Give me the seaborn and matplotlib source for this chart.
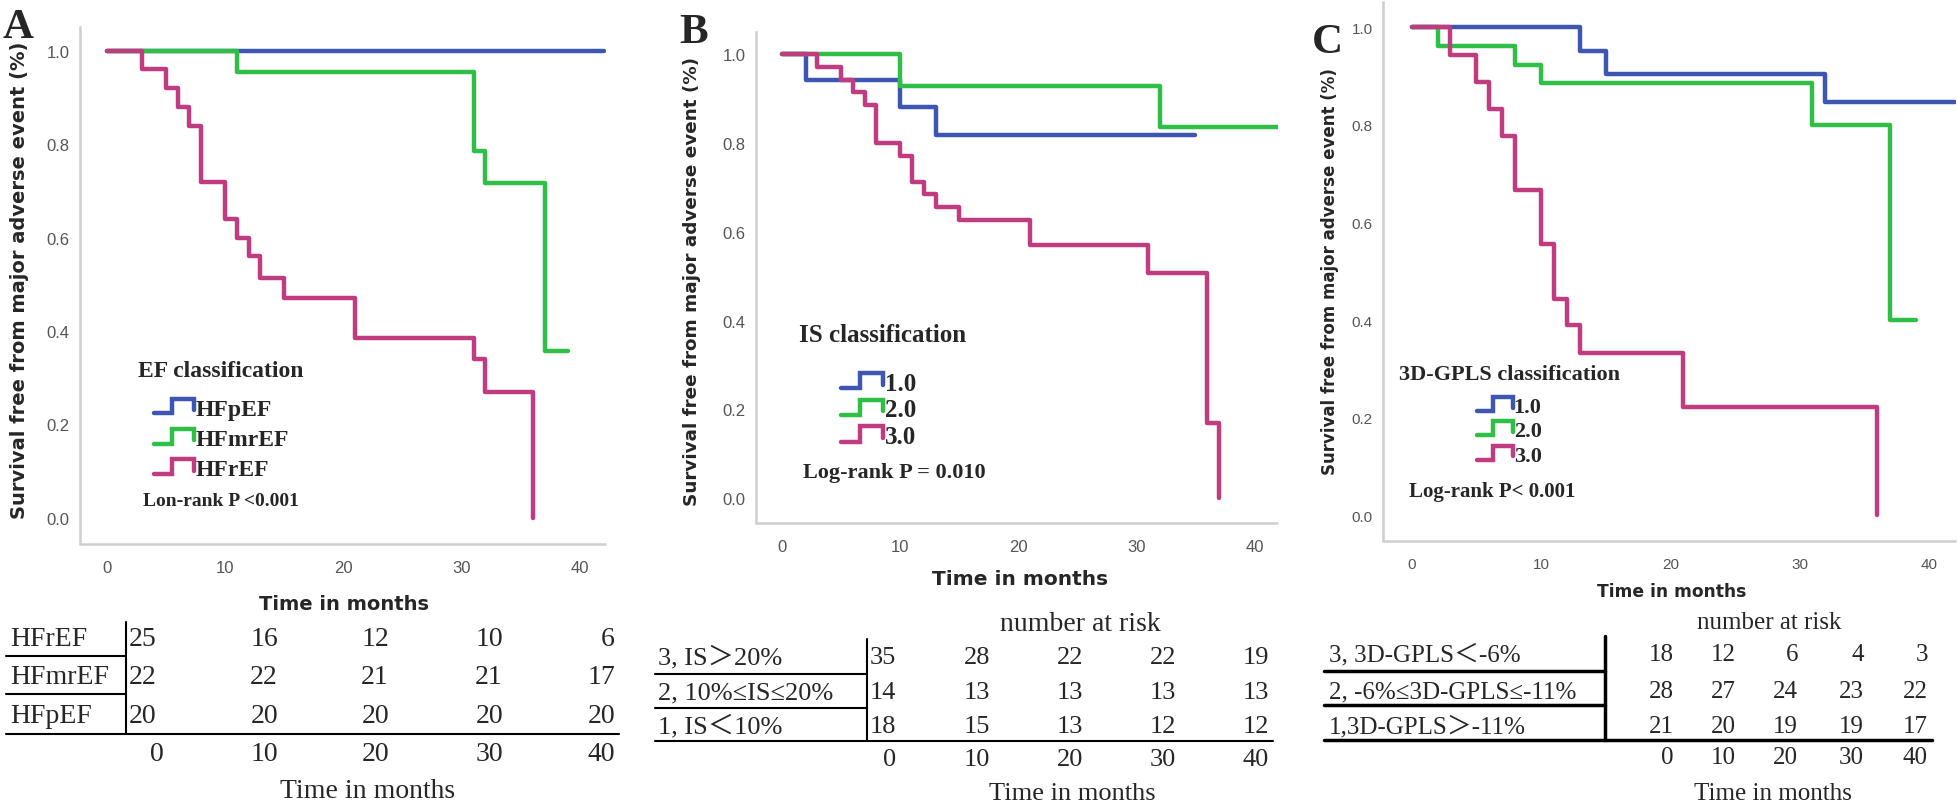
import numpy as np
import pandas as pd
import matplotlib
matplotlib.use("Agg")
import matplotlib.pyplot as plt
import seaborn as sns
from matplotlib.lines import Line2D
from matplotlib.legend_handler import HandlerBase
from matplotlib.transforms import Affine2D

# Kaplan-Meier step data (time in months, survival)
ef_groups = ["HFpEF", "HFmrEF", "HFrEF"]
ef_time = {
    "HFpEF": [0, 42],
    "HFmrEF": [0, 11, 31, 32, 37, 39],
    "HFrEF": [0, 3, 5, 6, 7, 8, 10, 11, 12, 13, 15, 21, 31, 32, 36],
}
ef_surv = {
    "HFpEF": [1.0, 1.0],
    "HFmrEF": [1.0, 0.955, 0.786, 0.716, 0.358, 0.358],
    "HFrEF": [1.0, 0.96, 0.92, 0.88, 0.84, 0.72, 0.64, 0.60, 0.56, 0.513, 0.47, 0.385, 0.34, 0.27, 0.0],
}

is_groups = ["1.0", "2.0", "3.0"]
is_time = {
    "1.0": [0, 2, 10, 13, 35],
    "2.0": [0, 10, 32, 42],
    "3.0": [0, 3, 5, 6, 7, 8, 10, 11, 12, 13, 15, 21, 31, 36, 37],
}
is_surv = {
    "1.0": [1.0, 0.943, 0.881, 0.817, 0.817],
    "2.0": [1.0, 0.928, 0.835, 0.835],
    "3.0": [1.0, 0.971, 0.943, 0.914, 0.886, 0.80, 0.77, 0.713, 0.684, 0.656, 0.627, 0.571, 0.507, 0.169, 0.0],
}

gpls_groups = ["1.0", "2.0", "3.0"]
gpls_time = {
    "1.0": [0, 13, 15, 32, 42],
    "2.0": [0, 2, 8, 10, 31, 37, 39],
    "3.0": [0, 3, 5, 6, 7, 8, 10, 11, 12, 13, 21, 36],
}
gpls_surv = {
    "1.0": [1.0, 0.952, 0.905, 0.848, 0.848],
    "2.0": [1.0, 0.962, 0.923, 0.885, 0.80, 0.40, 0.40],
    "3.0": [1.0, 0.944, 0.889, 0.833, 0.778, 0.667, 0.556, 0.444, 0.389, 0.333, 0.222, 0.0],
}

# Number at risk tables
risk_times = [0, 10, 20, 30, 40]
ef_risk_labels = ["HFrEF", "HFmrEF", "HFpEF"]
ef_risk = [[25, 16, 12, 10, 6], [22, 22, 21, 21, 17], [20, 20, 20, 20, 20]]
is_risk_labels = ["3, IS＞20%", "2, 10%≤IS≤20%", "1, IS＜10%"]
is_risk = [[35, 28, 22, 22, 19], [14, 13, 13, 13, 13], [18, 15, 13, 12, 12]]
gpls_risk_labels = ["3, 3D-GPLS＜-6%", "2, -6%≤3D-GPLS≤-11%", "1,3D-GPLS＞-11%"]
gpls_risk = [[18, 12, 6, 4, 3], [28, 27, 24, 23, 22], [21, 20, 19, 19, 17]]

palette = ["#3d56b2", "#2fbf47", "#c13b80"]

sns.set_style("white")
plt.rcParams["font.family"] = ["Liberation Sans", "DejaVu Sans"]

W, H = 1958, 804
fig = plt.figure(figsize=(W / 100, H / 100), dpi=100)
# pixel coordinates measured from the top-left corner
pix = Affine2D().scale(1 / W, -1 / H).translate(0, 1) + fig.transFigure

SERIF = ["Liberation Serif", "Noto Sans CJK SC"]


class StepHandler(HandlerBase):
    def create_artists(self, legend, orig_handle, xdescent, ydescent,
                       width, height, fontsize, trans):
        x0, y0 = -xdescent, -ydescent
        xs = [x0, x0 + 0.45 * width, x0 + 0.45 * width, x0 + width, x0 + width]
        ys = [y0 + 0.1 * height, y0 + 0.1 * height, y0 + 0.95 * height,
              y0 + 0.95 * height, y0 + 0.3 * height]
        line = Line2D(xs, ys, color=orig_handle.get_color(), lw=3.2,
                      solid_joinstyle="miter", transform=trans)
        return [line]


def km_panel(box, xlim, ylim, groups, times, survs, tick_size):
    left, top, right, bottom = box
    ax = fig.add_axes([left / W, 1 - bottom / H, (right - left) / W, (bottom - top) / H])
    rows = []
    for g in groups:
        for t, s in zip(times[g], survs[g]):
            rows.append({"time": t, "surv": s, "group": g})
    df = pd.DataFrame(rows)
    sns.lineplot(data=df, x="time", y="surv", hue="group", hue_order=groups,
                 palette=palette, estimator=None, sort=False,
                 drawstyle="steps-post", linewidth=3.2, legend=False, ax=ax)
    ax.set_xlim(*xlim)
    ax.set_ylim(*ylim)
    ax.set_xticks(risk_times)
    ax.set_yticks(np.arange(0, 1.01, 0.2))
    ax.set_yticklabels([f"{v:.1f}" for v in np.arange(0, 1.01, 0.2)])
    ax.set_xlabel("")
    ax.set_ylabel("")
    for side in ["top", "right"]:
        ax.spines[side].set_visible(False)
    ax.spines["left"].set_color("#cfcfcf")
    ax.spines["left"].set_linewidth(1.8)
    # SPSS style: x ticks hang a little below the frame line
    ax.spines["bottom"].set_position(("outward", 3))
    ax.spines["bottom"].set_visible(False)
    ax.plot([0, 1], [0, 0], transform=ax.transAxes, color="#cfcfcf", lw=1.8,
            clip_on=False, solid_capstyle="butt")
    ax.tick_params(axis="y", direction="out", length=6.5, width=1.6, color="#444444",
                   labelsize=tick_size, labelcolor="#555555", pad=1)
    ax.tick_params(axis="x", direction="out", length=6.5, width=1.6, color="#444444",
                   labelsize=tick_size, labelcolor="#555555", pad=2)
    return ax


def step_legend(ax, groups, title, title_pos, anchor, size, spacing, hlen):
    fig.text(title_pos[0], title_pos[1], title, transform=pix, family=SERIF,
             weight="bold", size=size, ha="center", va="center")
    handles = [Line2D([], [], color=c) for c in palette]
    leg = ax.legend(handles, groups, loc="center left",
                    bbox_to_anchor=anchor, bbox_transform=pix, frameon=False,
                    prop={"family": SERIF, "weight": "bold", "size": size},
                    handler_map={Line2D: StepHandler()}, handlelength=hlen,
                    handleheight=0.75, handletextpad=0.05, labelspacing=spacing,
                    borderpad=0, borderaxespad=0)
    return leg


def risk_table(labels, counts, lay, size, lw):
    for label, row, y in zip(labels, counts, lay["row_y"]):
        fig.text(lay["label_x"], y, label, transform=pix, family=SERIF, size=size,
                 ha="left", va="center")
        for j, (n, x) in enumerate(zip(row, lay["num_x"])):
            ha = "left" if (j == 0 and lay["first_left"]) else "right"
            xx = lay["vline_x"] + 3 if ha == "left" else x
            fig.text(xx, y, str(n), transform=pix, family=SERIF, size=size,
                     ha=ha, va="center")
    for t, x in zip(risk_times, lay["num_x"]):
        fig.text(x, lay["time_y"], str(t), transform=pix, family=SERIF, size=size,
                 ha="right", va="center")
    for y in lay["sep_y"]:
        fig.add_artist(Line2D(lay["sep_x"], [y, y], color="black", lw=lw, transform=pix))
    fig.add_artist(Line2D(lay["base_x"], [lay["base_y"]] * 2, color="black", lw=lw, transform=pix))
    fig.add_artist(Line2D([lay["vline_x"]] * 2, lay["vline_y"], color="black", lw=lw, transform=pix))
    fig.text(lay["xlabel"][0], lay["xlabel"][1], "Time in months", transform=pix,
             family=SERIF, size=lay["xlabel_size"], ha="center", va="center")
    if "header" in lay:
        fig.text(lay["header"][0], lay["header"][1], "number at risk", transform=pix,
                 family=SERIF, size=lay["header_size"], ha="center", va="center")


YLABEL = "Survival free from major adverse event (%)"

# ---- Panel A ----
axA = km_panel((80, 28, 606, 545), (-2.24, 42.19), (-0.056, 1.051),
               ef_groups, ef_time, ef_surv, 12)
step_legend(axA, ef_groups, "EF classification", (221, 372), (154, 440), 17, 0.36, 1.7)
fig.text(143, 502, "Lon-rank P <0.001", transform=pix, family=SERIF, weight="bold",
         size=14, ha="left", va="center")
fig.text(20, 280, YLABEL, transform=pix, family="DejaVu Sans", weight="bold",
         size=14, rotation=90, ha="center", va="center")
fig.text(344, 605, "Time in months", transform=pix, family="DejaVu Sans", weight="bold",
         size=14, ha="center", va="center")
fig.text(3, 38, "A", transform=pix, family=SERIF, weight="bold", size=31, va="baseline")
risk_table(ef_risk_labels, ef_risk,
           {"label_x": 10, "row_y": [640, 678, 717], "num_x": [164, 278, 389, 503, 615],
            "first_left": True, "time_y": 755, "sep_y": [657, 695], "sep_x": [6, 126],
            "base_y": 735, "base_x": [6, 619], "vline_x": 126, "vline_y": [623, 735],
            "xlabel": (368, 792), "xlabel_size": 20},
           20, 1.5)

# ---- Panel B ----
axB = km_panel((756, 33, 1278, 524), (-2.2, 42.0), (-0.056, 1.05),
               is_groups, is_time, is_surv, 12)
step_legend(axB, is_groups, "IS classification", (883, 336), (841, 411), 18, 0.15, 1.7)
fig.text(803, 473, "Log-rank P = 0.010", transform=pix, family=SERIF, weight="bold",
         size=16, ha="left", va="center")
fig.text(692, 281, YLABEL, transform=pix, family="DejaVu Sans", weight="bold",
         size=13.2, rotation=90, ha="center", va="center")
fig.text(1020, 580, "Time in months", transform=pix, family="DejaVu Sans", weight="bold",
         size=14.5, ha="center", va="center")
fig.text(679, 43, "B", transform=pix, family=SERIF, weight="bold", size=31, va="baseline")
risk_table(is_risk_labels, is_risk,
           {"label_x": 658, "row_y": [658, 693, 727], "num_x": [896, 990, 1083, 1176, 1269],
            "first_left": True, "time_y": 760, "sep_y": [675, 709], "sep_x": [655, 867],
            "base_y": 742, "base_x": [655, 1273], "vline_x": 867, "vline_y": [640, 742],
            "xlabel": (1072, 794), "xlabel_size": 19,
            "header": (1080, 625), "header_size": 20},
           19, 1.5)

# ---- Panel C ----
axC = km_panel((1383, 3, 1956, 542), (-2.22, 42.1), (-0.053, 1.052),
               gpls_groups, gpls_time, gpls_surv, 11)
step_legend(axC, gpls_groups, "3D-GPLS classification", (1510, 375), (1477, 432), 16, 0.16, 1.6)
fig.text(1409, 492, "Log-rank P< 0.001", transform=pix, family=SERIF, weight="bold",
         size=15, ha="left", va="center")
fig.text(1330, 272, YLABEL, transform=pix, family="DejaVu Sans", weight="bold",
         size=12, rotation=90, ha="center", va="center")
fig.text(1672, 592, "Time in months", transform=pix, family="DejaVu Sans", weight="bold",
         size=12.3, ha="center", va="center")
fig.text(1312, 53, "C", transform=pix, family=SERIF, weight="bold", size=31, va="baseline")
risk_table(gpls_risk_labels, gpls_risk,
           {"label_x": 1329, "row_y": [655, 692, 727], "num_x": [1674, 1736, 1798, 1864, 1928],
            "first_left": False, "time_y": 758, "sep_y": [672, 706], "sep_x": [1324, 1605],
            "base_y": 741, "base_x": [1324, 1932], "vline_x": 1605, "vline_y": [637, 741],
            "xlabel": (1773, 794), "xlabel_size": 18,
            "header": (1769, 623), "header_size": 18},
           18, 2.5)

fig.savefig("out.png", dpi=100)
